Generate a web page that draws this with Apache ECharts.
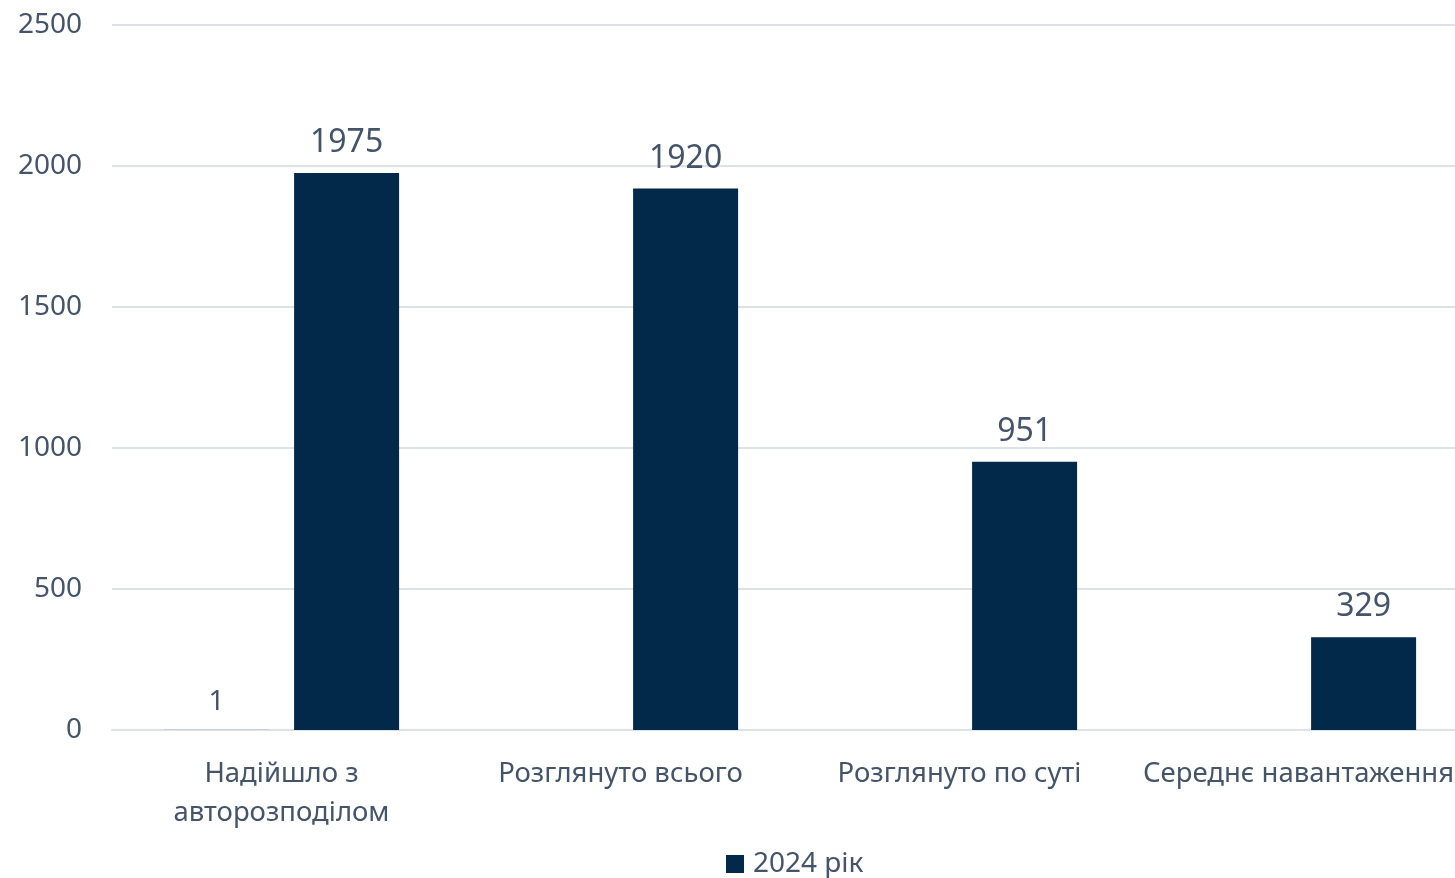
<!DOCTYPE html>
<html>
<head>
<meta charset="utf-8">
<script src="https://cdn.jsdelivr.net/npm/echarts@6/dist/echarts.min.js"></script>
<style>
    html, body { margin: 0; padding: 0; background: #fff; }
    #chart { width: 1455px; height: 878px; }
</style>
</head>
<body>
<div id="chart"></div>
<script>
var categories = ["Надійшло з\nавторозподілом", "Розглянуто всього", "Розглянуто по суті", "Середнє навантаження"];
var otherValues = [1, null, null, null];
var values2024 = [1975, 1920, 951, 329];
var yTicks = [0, 500, 1000, 1500, 2000, 2500];

var textColor = "#44546a";
var barColor = "#022949";
var fontName = "'Noto Sans', sans-serif";

var option = {
    animation: false,
    grid: { left: 112, width: 1356, top: 25, bottom: 148, containLabel: false, outerBoundsMode: "none" },
    legend: {
        data: ["2024 рік"],
        left: 721,
        top: 845,
        itemWidth: 18,
        itemHeight: 18,
        icon: "rect",
        textStyle: { color: textColor, fontSize: 28, fontFamily: fontName, padding: [0, 0, 0, 4] }
    },
    xAxis: {
        type: "category",
        data: categories,
        axisTick: { show: false },
        axisLine: { lineStyle: { color: "#dde2e8", width: 2 } },
        axisLabel: {
            interval: 0,
            margin: 25,
            color: textColor,
            fontSize: 27.5,
            lineHeight: 39,
            fontFamily: fontName
        }
    },
    yAxis: {
        type: "value",
        min: yTicks[0],
        max: yTicks[yTicks.length - 1],
        interval: 500,
        axisLabel: {
            color: textColor,
            fontSize: 28,
            fontFamily: fontName,
            margin: 30,
            formatter: function (v) { return String(v); }
        },
        splitLine: { lineStyle: { color: "#dde2e8", width: 2 } }
    },
    series: [
        {
            name: "інше",
            type: "bar",
            data: otherValues,
            barWidth: 105,
            barGap: "24%",
            itemStyle: { color: "#8497b0" },
            label: {
                show: true,
                position: "top",
                distance: 14,
                color: textColor,
                fontSize: 28,
                fontFamily: fontName
            }
        },
        {
            name: "2024 рік",
            type: "bar",
            data: values2024,
            barWidth: 105,
            itemStyle: { color: barColor },
            label: {
                show: true,
                position: "top",
                distance: 14,
                color: textColor,
                fontSize: 32,
                fontFamily: fontName
            }
        }
    ]
};

var myChart = echarts.init(document.getElementById("chart"));
myChart.setOption(option, true);
</script>
</body>
</html>
